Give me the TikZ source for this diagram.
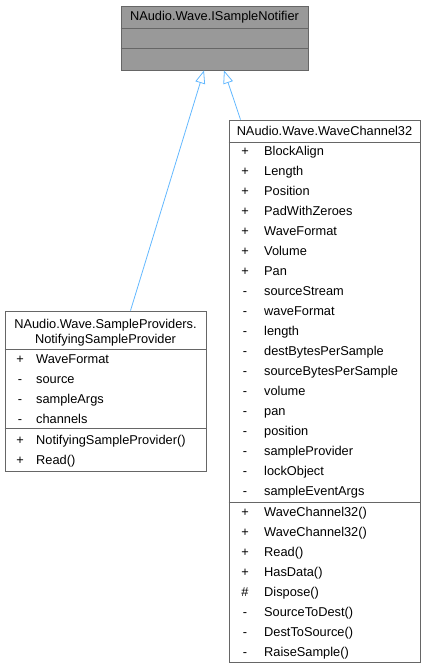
\documentclass[tikz,border=0pt]{standalone}
\usepackage{fontspec}
\setmainfont{Liberation Sans}
\usetikzlibrary{arrows.meta}
\definecolor{dxEdge}{HTML}{63B8FF}
\definecolor{dxLine}{HTML}{666666}
\definecolor{dxFocus}{HTML}{999999}

\begin{document}
\begin{tikzpicture}[x=1pt,y=-1pt,
  cls/.style={draw=dxLine,fill=white,line width=0.8pt,inner sep=0pt},
  focus/.style={cls,fill=dxFocus},
  sep/.style={dxLine,line width=0.8pt},
  ttl/.style={font=\fontsize{12.8}{15}\selectfont,align=center,inner sep=0pt},
  mk/.style={font=\fontsize{12.8}{15}\selectfont,inner sep=0pt,
             text height=10.5pt,text depth=2.5pt},
  mem/.style={mk,anchor=west},
  inh/.style={dxEdge,line width=0.8pt,-{Triangle[open,length=13pt,width=10pt]}}]
  \useasboundingbox (0,0) rectangle (427,669);
  % class boxes
  \node[focus,minimum width=187pt,minimum height=64pt] (isn) at (214.5,38)  {};
  \node[cls,minimum width=201pt,minimum height=160pt]  (ns)  at (105.5,391) {};
  \node[cls,minimum width=191pt,minimum height=542pt]  (wc)  at (324.5,391) {};
  % compartments
  \draw[sep] (isn.west |- 0,28)  -- (isn.east |- 0,28);
  \draw[sep] (isn.west |- 0,48)  -- (isn.east |- 0,48);
  \draw[sep] (ns.west |- 0,349)  -- (ns.east |- 0,349);
  \draw[sep] (ns.west |- 0,428)  -- (ns.east |- 0,428);
  \draw[sep] (wc.west |- 0,142)  -- (wc.east |- 0,142);
  \draw[sep] (wc.west |- 0,502)  -- (wc.east |- 0,502);
  % titles
  \node[ttl] (isnT) at (214.5,17)   {NAudio.Wave.ISampleNotifier};
  \node[ttl] (nsT)  at (105.5,332.5){NAudio.Wave.SampleProviders.\\NotifyingSampleProvider};
  \node[ttl] (wcT)  at (324.5,131)  {NAudio.Wave.WaveChannel32};
  % NotifyingSampleProvider members
  \foreach \m/\t [count=\i from 0] in {+/WaveFormat,-/source,-/sampleArgs,-/channels}{
    \node[mk]  (nsAm\i) at (20,359+20*\i) {\m};
    \node[mem] (nsAn\i) at (36,359+20*\i) {\t};
  }
  \foreach \m/\t [count=\i from 0] in {+/NotifyingSampleProvider(),+/Read()}{
    \node[mk]  (nsOm\i) at (20,440+20*\i) {\m};
    \node[mem] (nsOn\i) at (36,440+20*\i) {\t};
  }
  % WaveChannel32 members
  \foreach \m/\t [count=\i from 0] in {+/BlockAlign,+/Length,+/Position,+/PadWithZeroes,
      +/WaveFormat,+/Volume,+/Pan,-/sourceStream,-/waveFormat,-/length,
      -/destBytesPerSample,-/sourceBytesPerSample,-/volume,-/pan,-/position,
      -/sampleProvider,-/lockObject,-/sampleEventArgs}{
    \node[mk]  (wcAm\i) at (245,151+20*\i) {\m};
    \node[mem] (wcAn\i) at (264,151+20*\i) {\t};
  }
  \foreach \m/\t [count=\i from 0] in {+/WaveChannel32(),+/WaveChannel32(),+/Read(),
      +/HasData(),\#/Dispose(),-/SourceToDest(),-/DestToSource(),-/RaiseSample()}{
    \node[mk]  (wcOm\i) at (245,512+20*\i) {\m};
    \node[mem] (wcOn\i) at (264,512+20*\i) {\t};
  }
  % inheritance
  \draw[inh] ([xshift=25pt]ns.north) -- ([xshift=-10.5pt]isn.south);
  \draw[inh] ([xshift=-84pt]wc.north) -- ([xshift=9.5pt]isn.south);
\end{tikzpicture}
\end{document}
